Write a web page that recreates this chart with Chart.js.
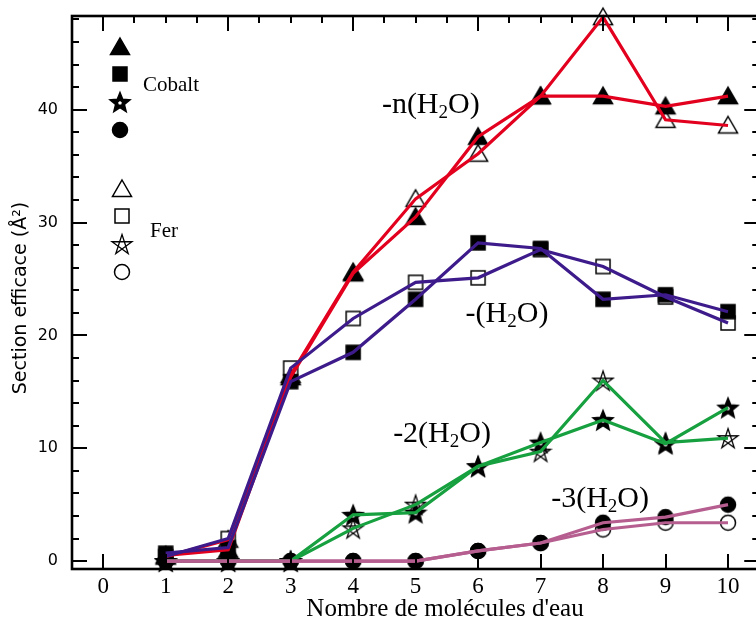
<!DOCTYPE html>
<html>
<head>
<meta charset="utf-8">
<script src="https://cdn.jsdelivr.net/npm/chart.js@4"></script>
<style>
html, body { margin: 0; padding: 0; background: #fff; overflow: hidden; }
#wrap { width: 756px; height: 622px; }
</style>
</head>
<body>
<div id="wrap"><canvas id="graph" width="756" height="622"></canvas></div>
<script>
// Nombre de molécules d'eau perdues
const molecules = [1, 2, 3, 4, 5, 6, 7, 8, 9, 10];
const xTickValues = [0, 1, 2, 3, 4, 5, 6, 7, 8, 9, 10];
const yTickValues = [0, 10, 20, 30, 40];

// Section efficace (Å²) - Cobalt (symboles pleins)
const cobaltN = [0.5, 1.0, 16.3, 25.5, 30.5, 37.6, 41.2, 41.2, 40.3, 41.2];
const cobalt1 = [0.7, 1.2, 15.9, 18.5, 23.2, 28.2, 27.7, 23.2, 23.6, 22.1];
const cobalt2 = [0, 0, 0, 4.1, 4.3, 8.4, 10.5, 12.5, 10.4, 13.6];
const cobalt3 = [0, 0, 0, 0, 0, 0.9, 1.6, 3.4, 3.9, 5.0];

// Section efficace (Å²) - Fer (symboles vides)
const ferN = [0.4, 1.9, 16.5, 25.6, 32.1, 36.1, 41.2, 48.2, 39.1, 38.6];
const fer1 = [0.4, 2.0, 17.1, 21.5, 24.7, 25.1, 27.6, 26.1, 23.4, 21.1];
const fer2 = [0, 0, 0, 2.9, 5.0, 8.4, 9.7, 16.0, 10.5, 10.9];
const fer3 = [0, 0, 0, 0, 0, 0.9, 1.6, 2.8, 3.4, 3.4];

// Couleurs des courbes
const rouge = '#e2001e';
const violet = '#3d1b8b';
const vert = '#17a03f';
const rose = '#b65e8f';

// Création des symboles (canvas utilisés comme pointStyle)
function makeMarker(shape, filled) {
    const size = 24;
    const c = document.createElement('canvas');
    c.width = size; c.height = size;
    const g = c.getContext('2d');
    const m = size / 2;
    g.lineWidth = 1.5;
    g.strokeStyle = '#000';
    g.fillStyle = filled ? '#000' : '#fff';
    g.beginPath();
    if (shape === 'tri') {
        g.moveTo(m, m - 9);
        g.lineTo(m + 9.5, m + 7.5);
        g.lineTo(m - 9.5, m + 7.5);
        g.closePath();
        g.fill(); g.stroke();
    } else if (shape === 'square') {
        g.rect(m - 7, m - 7, 14, 14);
        g.fill(); g.stroke();
    } else if (shape === 'circle') {
        g.arc(m, m, 7.5, 0, Math.PI * 2);
        g.fill(); g.stroke();
    } else if (shape === 'star') {
        if (filled) {
            for (let i = 0; i < 10; i++) {
                const r = i % 2 === 0 ? 10.5 : 4.6;
                const a = -Math.PI / 2 + i * Math.PI / 5;
                const px = m + r * Math.cos(a), py = m + 1 + r * Math.sin(a);
                if (i === 0) g.moveTo(px, py); else g.lineTo(px, py);
            }
            g.closePath();
            g.fill(); g.stroke();
            // petit centre blanc
            g.beginPath();
            for (let i = 0; i < 5; i++) {
                const a = -Math.PI / 2 + i * 2 * Math.PI / 5;
                const px = m + 2 * Math.cos(a), py = m + 1 + 2 * Math.sin(a);
                if (i === 0) g.moveTo(px, py); else g.lineTo(px, py);
            }
            g.closePath();
            g.fillStyle = '#fff';
            g.fill();
        } else {
            // pentagramme
            for (let i = 0; i < 5; i++) {
                const a = -Math.PI / 2 + i * 4 * Math.PI / 5;
                const px = m + 10.5 * Math.cos(a), py = m + 1 + 10.5 * Math.sin(a);
                if (i === 0) g.moveTo(px, py); else g.lineTo(px, py);
            }
            g.closePath();
            g.fill('evenodd');
            g.lineWidth = 1.3;
            g.stroke();
        }
    }
    return c;
}

const markers = {
    triPlein: makeMarker('tri', true),
    triVide: makeMarker('tri', false),
    carrePlein: makeMarker('square', true),
    carreVide: makeMarker('square', false),
    etoilePleine: makeMarker('star', true),
    etoileVide: makeMarker('star', false),
    rondPlein: makeMarker('circle', true),
    rondVide: makeMarker('circle', false)
};

function toPoints(values) {
    return molecules.map((n, i) => ({ x: n, y: values[i] }));
}

// courbe seule (tracée au-dessus des symboles, comme dans la figure)
function ligne(label, values, color) {
    return {
        label: label,
        data: toPoints(values),
        borderColor: color,
        borderWidth: 3.2,
        pointRadius: 0,
        fill: false,
        tension: 0,
        clip: false
    };
}

// symboles seuls
function symboles(label, values, marker) {
    return {
        label: label,
        data: toPoints(values),
        showLine: false,
        pointStyle: marker,
        pointRadius: 8,
        clip: false
    };
}

// Étiquettes des courbes (position en coordonnées des données)
const curveLabels = [
    { prefix: '-n', x: 4.46, y: 40.6 },
    { prefix: '-', x: 5.8, y: 22.1 },
    { prefix: '-2', x: 4.64, y: 11.4 },
    { prefix: '-3', x: 7.17, y: 5.7 }
];

function drawChem(ctx, prefix, x, y) {
    ctx.textAlign = 'left';
    ctx.textBaseline = 'alphabetic';
    ctx.font = '30px "Liberation Serif"';
    let t = prefix + '(H';
    ctx.fillText(t, x, y);
    x += ctx.measureText(t).width;
    ctx.font = '19px "Liberation Serif"';
    ctx.fillText('2', x, y + 5);
    x += ctx.measureText('2').width;
    ctx.font = '30px "Liberation Serif"';
    ctx.fillText('O)', x, y);
}

const decorPlugin = {
    id: 'decor',
    afterDatasetsDraw(chart) {
        const ctx = chart.ctx;
        const area = chart.chartArea;
        const xs = chart.scales.x;
        const ys = chart.scales.y;
        // le bord droit du cadre tombe juste hors de l'image
        const right = xs.getPixelForValue(10.5);
        ctx.save();
        ctx.strokeStyle = '#000';
        ctx.fillStyle = '#000';

        // cadre
        ctx.lineWidth = 2.6;
        ctx.strokeRect(area.left, area.top, right - area.left, area.bottom - area.top);

        // graduations
        ctx.lineWidth = 2;
        ctx.beginPath();
        for (let v = 0; v <= 48; v += 2) {
            const py = Math.round(ys.getPixelForValue(v));
            const len = v % 10 === 0 ? 15 : 7;
            ctx.moveTo(area.left, py); ctx.lineTo(area.left + len, py);
            ctx.moveTo(right, py); ctx.lineTo(right - len, py);
        }
        for (let v = 0; v <= 10; v += 0.5) {
            const px = Math.round(xs.getPixelForValue(v));
            const lenTop = v % 2 === 0 ? 15 : 7;
            ctx.moveTo(px, area.top); ctx.lineTo(px, area.top + lenTop);
            if (v % 1 === 0) {
                ctx.moveTo(px, area.bottom); ctx.lineTo(px, area.bottom - 15);
            }
        }
        ctx.stroke();

        // étiquettes de l'axe y
        ctx.font = '16px "DejaVu Sans"';
        ctx.textAlign = 'right';
        ctx.textBaseline = 'middle';
        yTickValues.forEach(v => {
            ctx.fillText(String(v), area.left - 14, ys.getPixelForValue(v));
        });

        // étiquettes de l'axe x
        ctx.font = '23px "Liberation Serif"';
        ctx.textAlign = 'center';
        ctx.textBaseline = 'middle';
        xTickValues.forEach(v => {
            ctx.fillText(String(v), xs.getPixelForValue(v), 587);
        });

        // titres des axes
        ctx.font = '25px "Liberation Serif"';
        ctx.fillText("Nombre de molécules d'eau", 445, 609);
        ctx.save();
        ctx.translate(21, 298);
        ctx.rotate(-Math.PI / 2);
        ctx.font = '19px "DejaVu Sans"';
        ctx.fillText('Section efficace (Å²)', 0, 0);
        ctx.restore();

        // légende
        const cobaltSyms = [markers.triPlein, markers.carrePlein, markers.etoilePleine, markers.rondPlein];
        const ferSyms = [markers.triVide, markers.carreVide, markers.etoileVide, markers.rondVide];
        const cobaltY = [47, 74, 102, 130];
        const ferY = [189, 216, 244, 272];
        cobaltSyms.forEach((s, i) => ctx.drawImage(s, 120 - s.width / 2, cobaltY[i] - s.height / 2));
        ferSyms.forEach((s, i) => ctx.drawImage(s, 122 - s.width / 2, ferY[i] - s.height / 2));
        ctx.font = '21px "Liberation Serif"';
        ctx.textAlign = 'left';
        ctx.textBaseline = 'middle';
        ctx.fillText('Cobalt', 143, 85);
        ctx.fillText('Fer', 150, 231);

        // noms des courbes
        curveLabels.forEach(l => {
            drawChem(ctx, l.prefix, xs.getPixelForValue(l.x), ys.getPixelForValue(l.y) + 10);
        });
        ctx.restore();
    }
};

const ctx = document.getElementById('graph').getContext('2d');
const graph = new Chart(ctx, {
    type: 'line',
    data: {
        // l'indice 0 est dessiné en dernier (au-dessus)
        datasets: [
            ligne('Fer -3(H2O)', fer3, rose),
            ligne('Cobalt -3(H2O)', cobalt3, rose),
            ligne('Fer -(H2O)', fer1, violet),
            ligne('Cobalt -(H2O)', cobalt1, violet),
            ligne('Fer -n(H2O)', ferN, rouge),
            ligne('Cobalt -n(H2O)', cobaltN, rouge),
            ligne('Fer -2(H2O)', fer2, vert),
            ligne('Cobalt -2(H2O)', cobalt2, vert),
            symboles('Cobalt -3(H2O)', cobalt3, markers.rondPlein),
            symboles('Cobalt -(H2O)', cobalt1, markers.carrePlein),
            symboles('Cobalt -n(H2O)', cobaltN, markers.triPlein),
            symboles('Cobalt -2(H2O)', cobalt2, markers.etoilePleine),
            symboles('Fer -3(H2O)', fer3, markers.rondVide),
            symboles('Fer -(H2O)', fer1, markers.carreVide),
            symboles('Fer -n(H2O)', ferN, markers.triVide),
            symboles('Fer -2(H2O)', fer2, markers.etoileVide)
        ]
    },
    options: {
        responsive: false,
        animation: false,
        layout: { autoPadding: false, padding: { left: 72, top: 16, right: 0, bottom: 53 } },
        plugins: { legend: { display: false }, tooltip: { enabled: false } },
        scales: {
            x: { type: 'linear', min: -0.5, max: 10.448, display: false },
            y: { type: 'linear', min: -0.7, max: 48.3, display: false }
        }
    },
    plugins: [decorPlugin]
});
</script>
</body>
</html>
